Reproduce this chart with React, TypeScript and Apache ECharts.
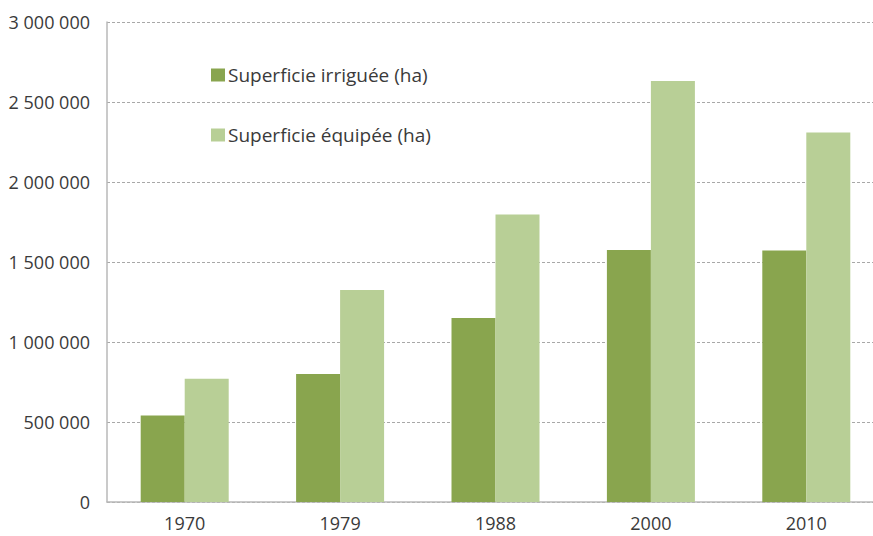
import React, { useEffect, useRef } from "react";
import * as echarts from "echarts";

const categories = ["1970", "1979", "1988", "2000", "2010"];
const irriguee = [540000, 800000, 1150000, 1575000, 1572000];
const equipee = [770000, 1325000, 1797000, 2632000, 2310000];
const seriesNames = ["Superficie irriguée (ha)", "Superficie équipée (ha)"];

const fmt = (v: number) => String(v).replace(/\B(?=(\d{3})+(?!\d))/g, " ");

export default function App() {
  const ref = useRef<HTMLDivElement>(null);
  useEffect(() => {
    document.body.style.margin = "0";
    const chart = echarts.init(ref.current!, null, { renderer: "svg" });
    chart.setOption({
      animation: false,
      backgroundColor: "#ffffff",
      textStyle: { fontFamily: "Open Sans" },
      grid: { left: 107, top: 22, bottom: 34, right: 0, containLabel: false },
      legend: {
        orient: "vertical",
        left: 206,
        top: 59,
        itemGap: 38,
        itemWidth: 14,
        itemHeight: 13,
        icon: "rect",
        textStyle: { fontSize: 19, lineHeight: 22, color: "#3a3a3a", fontFamily: "Open Sans", padding: [0, 0, 0, -2] },
        data: seriesNames,
      },
      xAxis: {
        type: "category",
        data: categories,
        axisLine: { show: true, lineStyle: { color: "#b8b8b8", width: 1.5 } },
        axisTick: { show: false },
        axisLabel: { color: "#3a3a3a", fontSize: 18, lineHeight: 18, margin: 12 },
      },
      yAxis: {
        type: "value",
        min: 0,
        max: 3000000,
        interval: 500000,
        axisLine: { show: true, lineStyle: { color: "#b8b8b8", width: 1.5 } },
        axisTick: { show: false },
        axisLabel: { color: "#3a3a3a", fontSize: 18, margin: 17, formatter: (v: number) => fmt(v) },
        splitLine: { show: true, lineStyle: { color: "#a8a8a8", type: [3, 2], width: 1 } },
      },
      series: [
        {
          name: seriesNames[0],
          type: "bar",
          data: irriguee,
          barWidth: 44,
          barGap: "0%",
          itemStyle: { color: "#89a54e" },
        },
        {
          name: seriesNames[1],
          type: "bar",
          data: equipee,
          barWidth: 44,
          barGap: "0%",
          itemStyle: { color: "#b8cf96" },
        },
      ],
    });
    return () => chart.dispose();
  }, []);
  return (
    <div style={{ width: 873, height: 536, overflow: "hidden", position: "relative" }}>
      <div ref={ref} style={{ width: 884, height: 536 }} />
    </div>
  );
}
